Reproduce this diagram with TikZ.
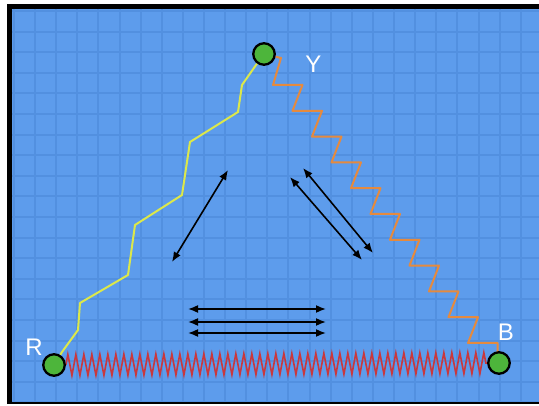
\documentclass[tikz,border=0pt]{standalone}
\usepackage{fontspec}
\setsansfont{Liberation Sans}
\usetikzlibrary{decorations.pathmorphing,arrows.meta,backgrounds}

\definecolor{board}{HTML}{5D9CEC}
\definecolor{gridline}{HTML}{5290E0}
\definecolor{ballgreen}{HTML}{4DB53B}
\definecolor{yellowline}{HTML}{DCE84A}
\definecolor{orangeline}{HTML}{E58A3E}
\definecolor{springred}{HTML}{C9383D}

\tikzset{
  ball/.style={circle, fill=ballgreen, draw=black, line width=2.3pt, minimum size=21.5pt, inner sep=0pt},
  lab/.style={text=white, font=\sffamily\fontsize{24}{24}\selectfont, inner sep=0pt},
  gridstroke/.style={gridline, line width=2pt},
  yellowpath/.style={yellowline, line width=2pt, line join=round},
  orangepath/.style={orangeline, line width=2pt, line join=round},
  spring/.style={springred, line width=1.6pt, decorate,
    decoration={zigzag, segment length=8pt, amplitude=10.5pt}},
  arr/.style={black, line width=1.6pt,
    {Latex[length=10pt,width=8pt]}-{Latex[length=10pt,width=8pt]}}
}

\begin{document}
\begin{tikzpicture}[x=1pt,y=-1pt]
\useasboundingbox (0,0) rectangle (539,406);

% board with frame and grid
\begin{scope}[on background layer]
  \fill[white] (0,0) rectangle (539,406);
  \fill[black] (7,4) rectangle (539,404);
  \fill[board] (12,9) rectangle (539,402);
  \begin{scope}
    \clip (12,9) rectangle (539,402);
    \foreach \i in {0,...,25}
      \draw[gridstroke] ({13.9+21.12*\i},9) -- ++(0,393);
    \foreach \j in {0,...,19}
      \draw[gridstroke] (12,{11.1+20.6*\j}) -- ++(527,0);
  \end{scope}
\end{scope}

% the three balls
\node[ball] (Y) at (264,54) {};
\node[ball] (R) at (54,365) {};
\node[ball] (B) at (499,363) {};

% labels
\node[lab] (Ylab) at (313.5,64) {Y};
\node[lab] (Rlab) at (34,347) {R};
\node[lab] (Blab) at (506,332) {B};

% bonds between the balls
\begin{scope}[on background layer]
  \draw[spring] (R) -- (B);
  \draw[yellowpath] (R) -- (62,352) -- (78,330) -- (80,303) -- (128,275)
    -- (135,225) -- (182,195) -- (190,142) -- (238,112) -- (242,85)
    -- (256,65) -- (Y);
  \draw[orangepath] (Y) -- (281,58)
    -- (273,85) -- (302.5,85)
    -- (292.5,110.8) -- (322,110.8)
    -- (312,136.6) -- (341.5,136.6)
    -- (331.5,162.4) -- (361,162.4)
    -- (351,188.2) -- (380.5,188.2)
    -- (370.5,214) -- (400,214)
    -- (390,239.8) -- (419.5,239.8)
    -- (409.5,265.6) -- (439,265.6)
    -- (429,291.4) -- (458.5,291.4)
    -- (448.5,317.2) -- (478,317.2)
    -- (468,343) -- (497.5,343)
    -- (497.5,352) -- (B);
\end{scope}

% arrow end points
\coordinate (a1s) at (172,262);
\coordinate (a1e) at (228,170);
\coordinate (a2s) at (290,177);
\coordinate (a2e) at (362,260);
\coordinate (a3s) at (303,168);
\coordinate (a3e) at (373,253);
\coordinate (h1s) at (188,309);
\coordinate (h1e) at (326,309);
\coordinate (h2s) at (188,322);
\coordinate (h2e) at (326,322);
\coordinate (h3s) at (188,333);
\coordinate (h3e) at (326,333);

% arrows
\draw[arr] (a1s) -- (a1e);
\draw[arr] (a2s) -- (a2e);
\draw[arr] (a3s) -- (a3e);
\draw[arr] (h1s) -- (h1e);
\draw[arr] (h2s) -- (h2e);
\draw[arr] (h3s) -- (h3e);
\end{tikzpicture}
\end{document}
